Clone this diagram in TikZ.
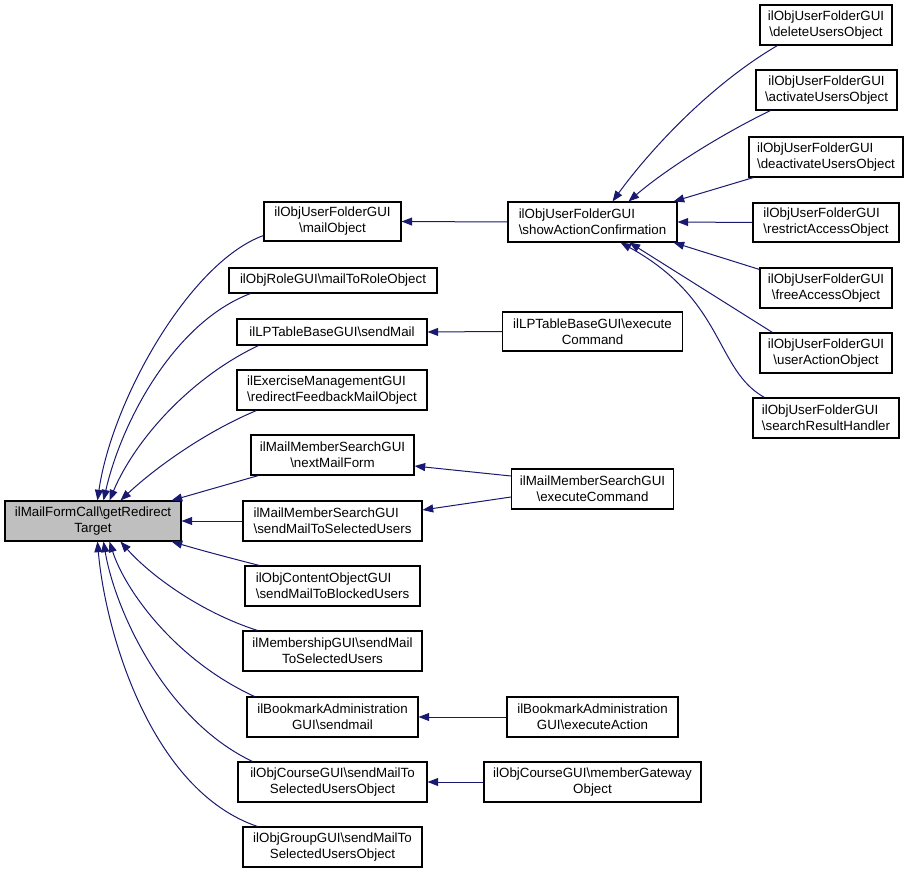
\documentclass[tikz,border=0pt]{standalone}
\usepackage{fontspec}
\setmainfont{Liberation Sans}
\usetikzlibrary{arrows.meta,calc}
\definecolor{edgec}{HTML}{191970}
\definecolor{mainfill}{HTML}{BFBFBF}
\begin{document}
\begin{tikzpicture}[x=0.75pt,y=-0.75pt,
  box/.style={draw=black, line width=0.8pt, fill=white, inner sep=0pt,
    font=\fontsize{10}{12}\selectfont, align=center},
  lbox/.style={box, align=left},
  wh/.style 2 args={minimum width=#1*0.75pt, minimum height=#2*0.75pt},
  edge/.style={draw=edgec, line width=0.75pt, -{Triangle[length=8pt,width=6pt]}}]
\useasboundingbox (0,0) rectangle (913,873);

% main
\node[box, fill=mainfill, wh={176}{40}] (main) at (93,521) {ilMailFormCall\textbackslash{}getRedirect\\Target};

% column 2
\node[box, wh={137}{39}] (mailobj) at (332.5,221.5) {ilObjUserFolderGUI\\\textbackslash{}mailObject};
\node[box, wh={208}{25}] (role) at (333,280.5) {ilObjRoleGUI\textbackslash{}mailToRoleObject};
\node[box, wh={190}{26}] (sendmail) at (332,332) {ilLPTableBaseGUI\textbackslash{}sendMail};
\node[lbox, wh={190}{40}] (redirect) at (332,390) {ilExerciseManagementGUI\\\textbackslash{}redirectFeedbackMailObject};
\node[box, wh={163}{40}] (nextmail) at (332.5,455) {ilMailMemberSearchGUI\\\textbackslash{}nextMailForm};
\node[lbox, wh={179}{40}] (sendsel) at (332.5,521) {ilMailMemberSearchGUI\\\textbackslash{}sendMailToSelectedUsers};
\node[lbox, wh={175}{40}] (content) at (332.5,586) {ilObjContentObjectGUI\\\textbackslash{}sendMailToBlockedUsers};
\node[box, wh={179}{40}] (member) at (332.5,651) {ilMembershipGUI\textbackslash{}sendMail\\ToSelectedUsers};
\node[box, wh={171}{40}] (bookmark) at (332.5,717) {ilBookmarkAdministration\\GUI\textbackslash{}sendmail};
\node[box, wh={189}{40}] (course) at (332.5,782) {ilObjCourseGUI\textbackslash{}sendMailTo\\SelectedUsersObject};
\node[box, wh={179}{40}] (group) at (332.5,847) {ilObjGroupGUI\textbackslash{}sendMailTo\\SelectedUsersObject};

% column 3
\node[lbox, wh={169}{40}] (showact) at (592.5,222) {ilObjUserFolderGUI\\\textbackslash{}showActionConfirmation};
\node[box, wh={180}{39}] (lpexec) at (592.5,331.5) {ilLPTableBaseGUI\textbackslash{}execute\\Command};
\node[box, wh={162}{40}] (mmexec) at (592.5,489) {ilMailMemberSearchGUI\\\textbackslash{}executeCommand};
\node[box, wh={171}{40}] (bmexec) at (592.5,717) {ilBookmarkAdministration\\GUI\textbackslash{}executeAction};
\node[box, wh={217}{40}] (gateway) at (592.5,782) {ilObjCourseGUI\textbackslash{}memberGateway\\Object};

% column 4
\node[box, wh={132}{40}] (del) at (826,25) {ilObjUserFolderGUI\\\textbackslash{}deleteUsersObject};
\node[box, wh={141}{40}] (act) at (826.5,90) {ilObjUserFolderGUI\\\textbackslash{}activateUsersObject};
\node[lbox, wh={154}{40}] (deact) at (826,157) {ilObjUserFolderGUI\\\textbackslash{}deactivateUsersObject};
\node[lbox, wh={146}{39}] (restr) at (826,222.5) {ilObjUserFolderGUI\\\textbackslash{}restrictAccessObject};
\node[box, wh={132}{40}] (free) at (826,288) {ilObjUserFolderGUI\\\textbackslash{}freeAccessObject};
\node[box, wh={132}{40}] (uact) at (826,353) {ilObjUserFolderGUI\\\textbackslash{}userActionObject};
\node[lbox, wh={146}{40}] (search) at (826,418) {ilObjUserFolderGUI\\\textbackslash{}searchResultHandler};

% edges into main
\draw[edge] ($(mailobj.south west)+(0,-6)$) .. controls (190,262) and (112,400) .. ($(main.north west)+(93,0)$);
\draw[edge] ($(role.south west)+(22,0)$) .. controls (175,322) and (122,420) .. ($(main.north west)+(99,0)$);
\draw[edge] ($(sendmail.south west)+(22,0)$) .. controls (190,378) and (135,440) .. ($(main.north west)+(105,0)$);
\draw[edge] ($(redirect.south west)+(20,0)$) .. controls (205,432) and (155,468) .. ($(main.north west)+(116,0)$);
\draw[edge] ($(nextmail.south west)+(8,0)$) -- ($(main.north east)+(-10,0)$);
\draw[edge] (sendsel.west) -- (main.east);
\draw[edge] ($(content.north west)+(15,0)$) .. controls (230,558) and (200,550) .. ($(main.south east)+(-10,0)$);
\draw[edge] ($(member.north west)+(15,0)$) .. controls (200,612) and (150,575) .. ($(main.south west)+(116,0)$);
\draw[edge] ($(bookmark.north west)+(8,0)$) .. controls (175,660) and (125,590) .. ($(main.south west)+(105,0)$);
\draw[edge] ($(course.north west)+(15,0)$) .. controls (165,720) and (115,610) .. ($(main.south west)+(99,0)$);
\draw[edge] ($(group.north west)+(15,0)$) .. controls (150,790) and (105,630) .. ($(main.south west)+(93,0)$);

% column 3 -> column 2
\draw[edge] (showact.west) -- (mailobj.east);
\draw[edge] (lpexec.west) -- (sendmail.east);
\draw[edge] ($(mmexec.west)+(0,-13)$) -- ($(nextmail.east)+(0,11)$);
\draw[edge] ($(mmexec.west)+(0,8)$) -- ($(sendsel.east)+(0,-11)$);
\draw[edge] (bmexec.west) -- (bookmark.east);
\draw[edge] (gateway.west) -- (course.east);

% column 4 -> showact
\draw[edge] ($(del.south west)+(18,0)$) .. controls (710,85) and (650,150) .. ($(showact.north)+(20,0)$);
\draw[edge] ($(act.south west)+(15,0)$) .. controls (720,135) and (665,170) .. ($(showact.north)+(36,0)$);
\draw[edge] ($(deact.south west)+(5,0)$) -- ($(showact.north east)+(-4,0)$);
\draw[edge] (restr.west) -- (showact.east);
\draw[edge] ($(free.north west)+(0,2)$) -- ($(showact.south east)+(-4,0)$);
\draw[edge] ($(uact.north west)+(13,0)$) -- ($(showact.south)+(37,0)$);
\draw[edge] ($(search.north west)+(12,0)$) .. controls (715,370) and (725,300) .. ($(showact.south)+(28,0)$);
\end{tikzpicture}
\end{document}
